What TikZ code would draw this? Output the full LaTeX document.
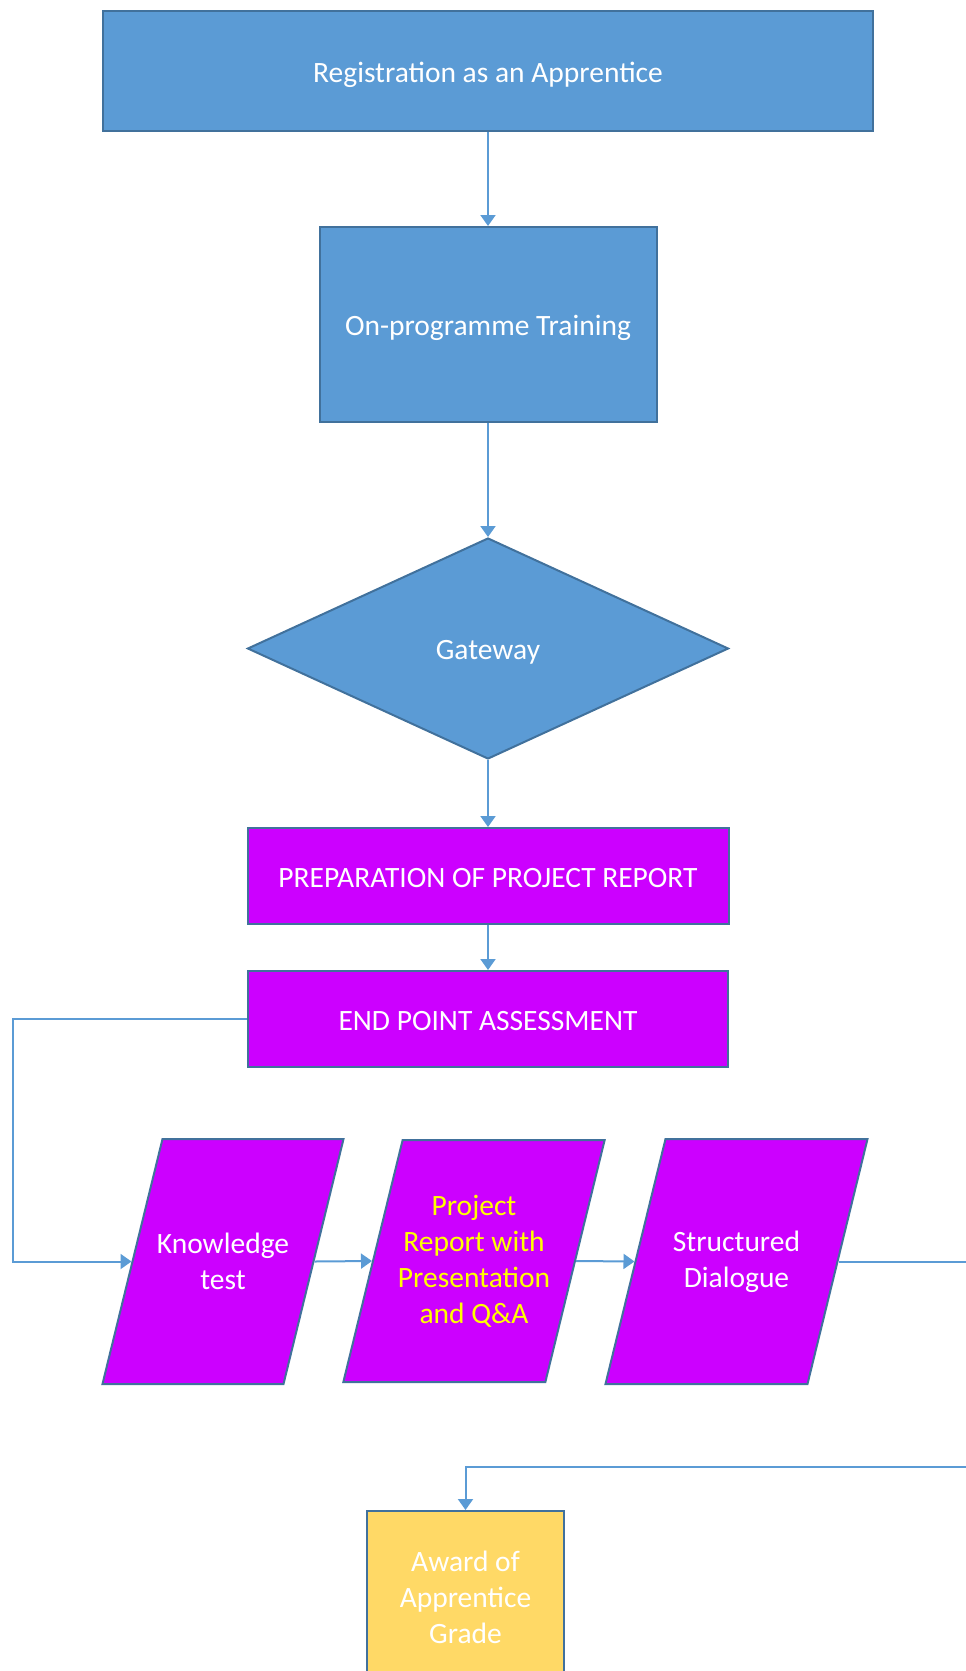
\documentclass[tikz,border=0pt]{standalone}
\usepackage{fontspec}
\setmainfont{Carlito}
\usetikzlibrary{shapes.geometric,arrows.meta}
\definecolor{boxblue}{HTML}{5B9BD5}
\definecolor{edgeblue}{HTML}{41719C}
\definecolor{epapurple}{HTML}{CC00FF}
\definecolor{awardgold}{HTML}{FFD966}
\definecolor{qayellow}{HTML}{FFFF00}
\tikzset{
  stage/.style={draw=edgeblue, line width=2pt, text=white, inner sep=0pt, align=center,
    font=\fontsize{29.5}{36}\selectfont},
  oneline/.style={text height=28pt, text depth=6pt},
  bluebox/.style={stage, oneline, fill=boxblue},
  purplebox/.style={stage, oneline, fill=epapurple},
  slantbox/.style={draw=edgeblue, line width=2pt, fill=epapurple, xslant=0.245, minimum height=245pt},
  slanttext/.style={text=white, align=center, font=\fontsize{29.5}{36}\selectfont},
  link/.style={draw=boxblue, line width=2pt, -{Triangle[width=15pt,length=11pt]}},
}
\begin{document}
\begin{tikzpicture}[x=1pt,y=-1pt]
        \useasboundingbox (0,0) rectangle (966,1671);

        % main column
        \node[bluebox, minimum width=770pt, minimum height=120pt] (reg) at (488,71) {Registration as an Apprentice};
        \node[bluebox, minimum width=337pt, minimum height=195pt] (train) at (488,324.5) {On-programme Training};
        \node[bluebox, diamond, aspect=2.18, minimum width=481pt, minimum height=221pt] (gate) at (488,648.5) {Gateway};
        \node[purplebox, minimum width=481pt, minimum height=96pt] (prep) at (488,876) {PREPARATION OF PROJECT REPORT};
        \node[purplebox, minimum width=480pt, minimum height=96pt] (epa) at (488,1019) {END POINT ASSESSMENT};

        % assessment methods
        \node[slantbox, minimum width=181pt] (kt) at (223,1261.5) {};
        \node[slantbox, minimum width=202pt, minimum height=242pt] (pr) at (474,1261) {};
        \node[slantbox, minimum width=202pt] (sd) at (736.5,1261.5) {};
        \node[slanttext] (kt-text) at (kt) {Knowledge\\test};
        \node[slanttext, text=qayellow] (pr-text) at (pr) {Project\\Report with\\Presentation\\and Q\&A};
        \node[slanttext] (sd-text) at (sd) {Structured\\Dialogue};

        \node[stage, fill=awardgold, minimum width=197pt, minimum height=172pt] (award) at (465.5,1597) {Award of\\Apprentice\\Grade};

        \coordinate (loopL) at (13,1019);
        \coordinate (loopR) at (995,1467);

        \draw[link] (reg) -- (train);
        \draw[link] (train) -- (gate);
        \draw[link] (gate) -- (prep);
        \draw[link] (prep) -- (epa);
        \draw[link] (epa.west) -- (loopL) |- (kt.west);
        \draw[link] (kt.east) -- (pr.west);
        \draw[link] (pr.east) -- (sd.west);
        \draw[link] (sd.east) -| (loopR) -| (award.north);
    \end{tikzpicture}
\end{document}
